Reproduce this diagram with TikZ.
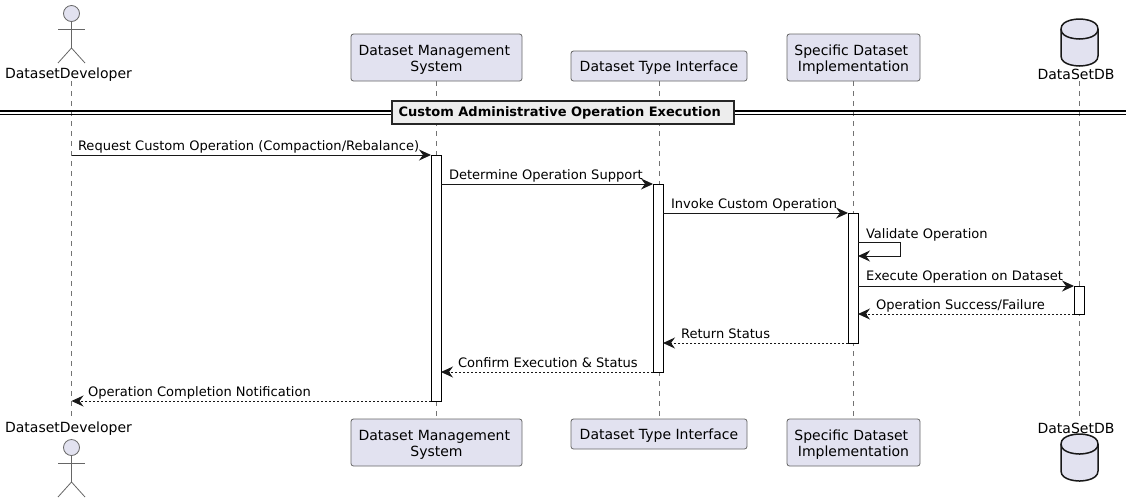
\documentclass[tikz,border=0pt]{standalone}
\usepackage{fontspec}
\setmainfont{DejaVu Sans}
\usetikzlibrary{arrows.meta}
\definecolor{partfill}{HTML}{E2E2F0}
\definecolor{partline}{HTML}{181818}
\newcommand{\trail}{\rule{4.5pt}{0pt}}
\newcommand{\lift}[1]{\rule{0pt}{#1pt}}
\tikzset{
	part/.style={draw=black!60, line width=0.8pt, fill=partfill, rounded corners=2.5pt, inner sep=0, outer sep=0, align=center, font=\fontsize{14}{15.5}\selectfont},
	plain/.style={inner sep=0, outer sep=0, font=\fontsize{14}{15.5}\selectfont},
	msgtext/.style={inner sep=0, outer sep=0, anchor=base west, font=\fontsize{13.05}{15}\selectfont},
	lifeline/.style={draw=black!55, line width=0.7pt, dash pattern=on 5pt off 5pt},
	bar/.style={draw=black, line width=1pt, fill=white, minimum width=10pt, inner sep=0, outer sep=0},
	call/.style={draw=partline, line width=1pt, -{Stealth[length=12pt,width=11pt,inset=4pt]}},
	reply/.style={call, dash pattern=on 2pt off 2pt},
	figure/.style={draw=black!60, line width=0.8pt},
	cyl/.style={draw=partline, line width=1.5pt},
}
\begin{document}
\begin{tikzpicture}[x=1pt, y=-1pt]
	%%%%% START %%%%%
	\useasboundingbox (0, 0) rectangle (1131, 499);

	% participants, top row
	\node[part, minimum width=171pt, minimum height=47pt] (mgmtTop) at (436.5, 57.5) {\lift{14.5}Dataset Management\trail\\System};
	\node[part, minimum width=176pt, minimum height=30pt] (typeTop) at (659, 66) {\lift{13}Dataset Type Interface};
	\node[part, minimum width=133pt, minimum height=47pt] (implTop) at (853.5, 57.5) {\lift{14.5}Specific Dataset\trail\\Implementation};
	\node[plain] (devTopText) at (68.5, 74.5) {DatasetDeveloper};
	\node[plain] (dbTopText) at (1076, 74.5) {DataSetDB};

	% participants, bottom row
	\node[part, minimum width=171pt, minimum height=47pt] (mgmtBot) at (436.5, 442.5) {\lift{14.5}Dataset Management\trail\\System};
	\node[part, minimum width=176pt, minimum height=30pt] (typeBot) at (659, 434) {\lift{13}Dataset Type Interface};
	\node[part, minimum width=133pt, minimum height=47pt] (implBot) at (853.5, 442.5) {\lift{14.5}Specific Dataset\trail\\Implementation};
	\node[plain] (devBotText) at (68.5, 428.5) {DatasetDeveloper};
	\node[plain] (dbBotText) at (1076, 428.5) {DataSetDB};

	\coordinate (devTop) at (71.5, 81);
	\coordinate (devBot) at (71.5, 419);
	\coordinate (dbTop) at (1079, 81);
	\coordinate (dbBot) at (1079, 419);

	% lifelines
	\draw[lifeline] (devTop) -- (devBot);
	\draw[lifeline] (mgmtTop) -- (mgmtBot);
	\draw[lifeline] (typeTop) -- (typeBot);
	\draw[lifeline] (implTop) -- (implBot);
	\draw[lifeline] (dbTop) -- (dbBot);

	% actor, top
	\draw[figure, fill=partfill] (71.5, 13.5) circle (8);
	\draw[figure] (71.5, 21.5) -- (71.5, 48);
	\draw[figure] (58, 29) -- (85, 29);
	\draw[figure] (58, 63) -- (71.5, 48) -- (85, 63);

	% actor, bottom
	\draw[figure, fill=partfill] (71.5, 447.5) circle (8);
	\draw[figure] (71.5, 455.5) -- (71.5, 482);
	\draw[figure] (58, 463) -- (85, 463);
	\draw[figure] (58, 497) -- (71.5, 482) -- (85, 497);

	% database, top
	\draw[cyl, fill=partfill] (1061, 29) .. controls (1061, 19) and (1079.5, 19) .. (1079.5, 19) .. controls (1079.5, 19) and (1098, 19) .. (1098, 29) -- (1098, 56) .. controls (1098, 66) and (1079.5, 66) .. (1079.5, 66) .. controls (1079.5, 66) and (1061, 66) .. (1061, 56) -- cycle;
	\draw[cyl] (1061, 29) .. controls (1061, 39) and (1079.5, 39) .. (1079.5, 39) .. controls (1079.5, 39) and (1098, 39) .. (1098, 29);

	% database, bottom
	\draw[cyl, fill=partfill] (1061, 444) .. controls (1061, 434) and (1079.5, 434) .. (1079.5, 434) .. controls (1079.5, 434) and (1098, 434) .. (1098, 444) -- (1098, 471) .. controls (1098, 481) and (1079.5, 481) .. (1079.5, 481) .. controls (1079.5, 481) and (1061, 481) .. (1061, 471) -- cycle;
	\draw[cyl] (1061, 444) .. controls (1061, 454) and (1079.5, 454) .. (1079.5, 454) .. controls (1079.5, 454) and (1098, 454) .. (1098, 444);

	% divider
	\draw[line width=1.2pt, draw=black] (0, 111) -- (1126, 111);
	\draw[line width=1.2pt, draw=black] (0, 114.5) -- (1126, 114.5);
	\node[draw=black!85, line width=2pt, fill=black!7, inner sep=0, outer sep=0, minimum width=342pt, minimum height=23pt, font=\fontsize{13}{15}\selectfont\bfseries] (divider) at (563, 112.5) {Custom Administrative Operation Execution\rule{6.6pt}{0pt}};

	% activation bars
	\node[bar, minimum height=246pt] (mgmtBar) at (436, 278) {};
	\node[bar, minimum height=188pt] (typeBar) at (658, 278) {};
	\node[bar, minimum height=130pt] (implBar) at (853, 278) {};
	\node[bar, minimum height=28pt] (dbBar) at (1079, 300) {};

	% messages
	\draw[call] (devTop |- mgmtBar.north) -- (mgmtBar.north west);
	\node[msgtext] (reqText) at (78, 150.5) {Request Custom Operation (Compaction/Rebalance)};
	\draw[call] (mgmtBar.east |- typeBar.north) -- (typeBar.north west);
	\node[msgtext] (detText) at (449, 179.5) {Determine Operation Support};
	\draw[call] (typeBar.east |- implBar.north) -- (implBar.north west);
	\node[msgtext] (invText) at (671, 208.5) {Invoke Custom Operation};

	\coordinate (selfA) at (858, 242);
	\coordinate (selfB) at (900.5, 242);
	\coordinate (selfC) at (900.5, 256);
	\coordinate (selfD) at (858, 256);
	\draw[call] (selfA) -- (selfB) -- (selfC) -- (selfD);
	\node[msgtext] (valText) at (866, 238) {Validate Operation};

	\draw[call] (implBar.east |- dbBar.north) -- (dbBar.north west);
	\node[msgtext] (exeText) at (866, 280.5) {Execute Operation on Dataset};
	\draw[reply] (dbBar.south west) -- (implBar.east |- dbBar.south);
	\node[msgtext] (sucText) at (876, 309.5) {Operation Success/Failure};
	\draw[reply] (implBar.south west) -- (typeBar.east |- implBar.south);
	\node[msgtext] (retText) at (681, 338.5) {Return Status};
	\draw[reply] (typeBar.south west) -- (mgmtBar.east |- typeBar.south);
	\node[msgtext] (conText) at (458, 367.5) {Confirm Execution \& Status};
	\draw[reply] (mgmtBar.south west) -- (devTop |- mgmtBar.south);
	\node[msgtext] (notText) at (88, 396.5) {Operation Completion Notification};

	%%%%% END %%%%%
\end{tikzpicture}
\end{document}
